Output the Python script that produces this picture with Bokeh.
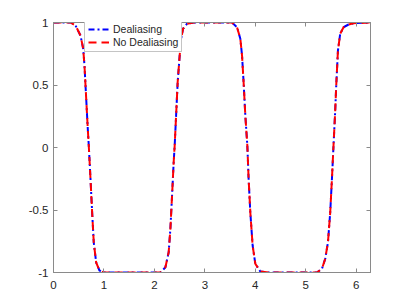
from bokeh.plotting import figure
from bokeh.models import Range1d, LinearAxis, FixedTicker, Legend, LegendItem
from bokeh.embed import file_html
from bokeh.resources import INLINE

# curve samples
x_vals = [0.0, 0.34, 0.436, 0.535, 0.588, 0.614, 0.648, 0.679, 0.699, 0.733, 0.766,
          0.798, 0.846, 0.911, 0.996, 2.119, 2.218, 2.283, 2.317, 2.350, 2.382, 2.402,
          2.430, 2.461, 2.501, 2.529, 2.568, 2.648, 2.778, 3.539, 3.638, 3.703, 3.737,
          3.768, 3.802, 3.842, 3.867, 3.901, 3.947, 4.000, 4.099, 4.263, 5.222, 5.321,
          5.386, 5.440, 5.485, 5.519, 5.550, 5.584, 5.604, 5.638, 5.683, 5.749, 5.848,
          5.946, 6.283]
y_dealias = [1.0, 1.0, 0.976, 0.896, 0.792, 0.656, 0.392, 0.152, 0.016, -0.248, -0.52,
             -0.76, -0.92, -0.984, -1.0, -1.0, -0.958, -0.838, -0.650, -0.384, -0.118, 0.016,
             0.256, 0.522, 0.736, 0.870, 0.950, 0.990, 1.0, 1.0, 0.962, 0.870, 0.736,
             0.522, 0.256, 0.016, -0.248, -0.518, -0.784, -0.930, -0.992, -1.0, -1.0, -0.970,
             -0.890, -0.758, -0.518, -0.250, 0.016, 0.296, 0.496, 0.776, 0.910, 0.962, 0.984,
             0.994, 1.0]
y_nodealias = list(y_dealias)

x_ticks = [0, 1, 2, 3, 4, 5, 6]
x_tick_labels = ["0", "1", "2", "3", "4", "5", "6"]
y_ticks = [-1, -0.5, 0, 0.5, 1]
y_tick_labels = ["-1", "-0.5", "0", "0.5", "1"]
series_names = ["Dealiasing", "No Dealiasing"]

AX = "#8a8a8a"
TXT = "#262626"
FONT = "Liberation Sans"

p = figure(width=400, height=299, output_backend="svg", toolbar_location=None,
           x_range=Range1d(0, 6.283185), y_range=Range1d(-1, 1),
           min_border_left=53, min_border_right=30, min_border_top=22, min_border_bottom=27,
           x_axis_location=None, y_axis_location=None)
p.xgrid.visible = False
p.ygrid.visible = False
p.outline_line_color = AX
p.outline_line_width = 1
p.background_fill_color = "white"
p.border_fill_color = "white"

def style(ax, ticks, labels, show):
    ax.ticker = FixedTicker(ticks=ticks)
    ax.major_label_overrides = {t: l for t, l in zip(ticks, labels)}
    ax.axis_line_color = AX
    ax.major_tick_line_color = AX
    ax.major_tick_in = 4
    ax.major_tick_out = 0
    ax.minor_tick_line_color = None
    ax.major_label_text_font = FONT
    ax.major_label_text_font_size = "11.5px" if show else "0px"
    ax.major_label_text_color = TXT if show else None

bx = LinearAxis(); style(bx, x_ticks, x_tick_labels, True); bx.major_label_standoff = 8
ly = LinearAxis(); style(ly, y_ticks, y_tick_labels, True); ly.major_label_standoff = 5
tx = LinearAxis(); style(tx, x_ticks, x_tick_labels, False); tx.major_label_standoff = 0
ry = LinearAxis(); style(ry, y_ticks, y_tick_labels, False); ry.major_label_standoff = 0
p.add_layout(bx, "below")
p.add_layout(ly, "left")
p.add_layout(tx, "above")
p.add_layout(ry, "right")

r1 = p.line(x_vals, y_dealias, line_color="#0000ff", line_width=2, line_dash="6 3 2 3")
r2 = p.line(x_vals, y_nodealias, line_color="#ff0000", line_width=2, line_dash="8 5")

leg = Legend(items=[LegendItem(label=series_names[0], renderers=[r1]),
                    LegendItem(label=series_names[1], renderers=[r2])],
             location=(31, 220))
leg.border_line_color = AX
leg.background_fill_color = "white"
leg.background_fill_alpha = 1
leg.label_text_font = FONT
leg.label_text_font_size = "10.5px"
leg.label_text_color = TXT
leg.glyph_width = 21
leg.glyph_height = 12
leg.label_height = 12
leg.label_standoff = 4
leg.padding = 3
leg.spacing = 1
leg.margin = 0
p.add_layout(leg, "center")

open("out.html", "w").write(file_html(p, INLINE))
